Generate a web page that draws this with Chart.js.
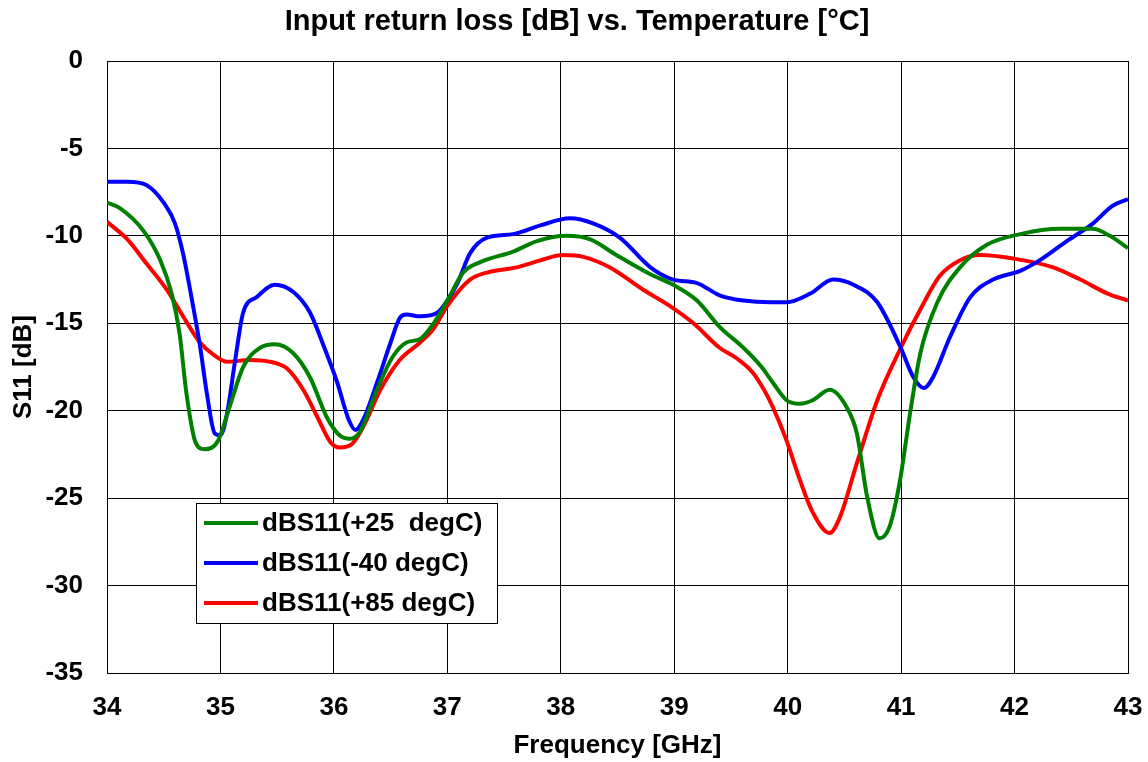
<!DOCTYPE html>
<html>
<head>
<meta charset="utf-8">
<script src="https://cdn.jsdelivr.net/npm/chart.js@4.4.1/dist/chart.umd.min.js"></script>
<style>
  body { margin: 0; background: #fff; }
  #wrap { width: 1148px; height: 762px; }
</style>
</head>
<body>
<div id="wrap"><canvas id="myChart" width="1148" height="762"></canvas></div>
<script>
const FONT = '"Liberation Sans", Arial, sans-serif';

// Frequency [GHz] / S11 [dB]
const freq25 = [34.0, 34.11, 34.32, 34.47, 34.57, 34.64, 34.70, 34.78, 34.86, 34.98, 35.08, 35.2, 35.35, 35.48, 35.64, 35.79, 35.94, 36.05, 36.14, 36.23, 36.38, 36.52, 36.64, 36.76, 36.88, 37.0, 37.14, 37.29, 37.58, 37.79, 38.05, 38.26, 38.49, 38.79, 38.99, 39.2, 39.4, 39.61, 39.77, 39.87, 39.99, 40.11, 40.22, 40.37, 40.52, 40.61, 40.70, 40.81, 40.90, 40.99, 41.08, 41.17, 41.32, 41.52, 41.76, 42.05, 42.40, 42.69, 42.84, 43.0];
const s11_25 = [-8.1, -8.4, -9.7, -11.4, -13.3, -15.6, -19.0, -21.8, -22.2, -21.7, -19.8, -17.5, -16.4, -16.2, -16.7, -18.1, -20.4, -21.4, -21.6, -21.2, -18.8, -16.9, -16.1, -15.9, -15.0, -13.7, -12.1, -11.5, -10.9, -10.3, -10.0, -10.2, -11.1, -12.2, -12.8, -13.7, -15.2, -16.4, -17.5, -18.4, -19.4, -19.6, -19.4, -18.8, -19.8, -21.3, -24.9, -27.3, -26.6, -24.0, -20.1, -16.7, -13.8, -11.8, -10.5, -9.9, -9.6, -9.6, -10.0, -10.7];

const freqM40 = [34.0, 34.18, 34.35, 34.5, 34.6, 34.67, 34.75, 34.82, 34.88, 34.95, 35.0, 35.06, 35.13, 35.2, 35.32, 35.48, 35.64, 35.79, 35.91, 36.03, 36.13, 36.19, 36.26, 36.38, 36.5, 36.58, 36.64, 36.76, 36.91, 37.01, 37.09, 37.2, 37.35, 37.58, 37.82, 38.08, 38.29, 38.52, 38.79, 38.99, 39.2, 39.4, 39.61, 39.85, 39.99, 40.2, 40.4, 40.58, 40.79, 40.99, 41.11, 41.2, 41.28, 41.43, 41.61, 41.81, 42.05, 42.22, 42.46, 42.69, 42.86, 43.0];
const s11M40 = [-6.9, -6.9, -7.1, -8.1, -9.3, -11.0, -13.7, -16.3, -19.0, -21.3, -21.4, -20.1, -17.1, -14.4, -13.5, -12.8, -13.2, -14.4, -16.3, -18.4, -20.5, -21.1, -20.5, -18.4, -16.1, -14.7, -14.5, -14.6, -14.4, -13.6, -12.7, -11.0, -10.1, -9.9, -9.4, -9.0, -9.3, -10.1, -11.8, -12.5, -12.7, -13.4, -13.7, -13.8, -13.8, -13.3, -12.5, -12.8, -13.8, -16.3, -18.1, -18.7, -18.1, -15.8, -13.5, -12.5, -12.0, -11.4, -10.3, -9.3, -8.3, -7.9];

const freq85 = [34.0, 34.18, 34.35, 34.53, 34.67, 34.82, 34.94, 35.06, 35.26, 35.5, 35.59, 35.73, 35.85, 35.97, 36.05, 36.16, 36.26, 36.41, 36.58, 36.76, 36.88, 37.0, 37.2, 37.35, 37.61, 37.82, 38.02, 38.2, 38.43, 38.73, 38.96, 39.17, 39.4, 39.55, 39.69, 39.8, 39.87, 39.99, 40.11, 40.22, 40.37, 40.46, 40.61, 40.79, 40.99, 41.17, 41.34, 41.52, 41.7, 41.99, 42.34, 42.58, 42.82, 43.0];
const s11_85 = [-9.2, -10.2, -11.6, -13.1, -14.6, -16.1, -16.8, -17.2, -17.1, -17.3, -17.6, -18.8, -20.3, -21.8, -22.1, -21.9, -20.9, -18.8, -17.1, -16.1, -15.3, -14.0, -12.5, -12.1, -11.8, -11.4, -11.1, -11.2, -11.8, -13.1, -14.0, -15.0, -16.4, -17.0, -17.8, -18.9, -19.8, -21.7, -24.0, -25.8, -27.0, -26.1, -23.0, -19.4, -16.5, -14.2, -12.3, -11.4, -11.1, -11.3, -11.8, -12.5, -13.3, -13.7];

const seriesLabels = ["dBS11(+25  degC)", "dBS11(-40 degC)", "dBS11(+85 degC)"];
const seriesColors = ["#008000", "#0000ff", "#ff0000"];

const toPoints = (xs, ys) => xs.map((x, i) => ({ x: x, y: ys[i] }));

// title + boxed legend drawn by hand
const extras = {
  id: "extras",
  afterDatasetsDraw(chart) {
    const ctx = chart.ctx;
    ctx.save();
    ctx.fillStyle = "#000";
    ctx.font = "bold 29px " + FONT;
    ctx.textAlign = "center";
    ctx.textBaseline = "middle";
    ctx.fillText("Input return loss [dB] vs. Temperature [°C]", 577, 22);

    const bx = 196, by = 503, bw = 301, bh = 120;
    ctx.fillStyle = "#fff";
    ctx.fillRect(bx, by, bw, bh);
    ctx.strokeStyle = "#000";
    ctx.lineWidth = 1;
    ctx.strokeRect(bx + 0.5, by + 0.5, bw, bh);
    ctx.font = "bold 26px " + FONT;
    ctx.textAlign = "left";
    chart.data.datasets.forEach((ds, i) => {
      const y = by + 20 + i * 40;
      ctx.strokeStyle = ds.borderColor;
      ctx.lineWidth = 4;
      ctx.beginPath();
      ctx.moveTo(bx + 8, y);
      ctx.lineTo(bx + 62, y);
      ctx.stroke();
      ctx.fillStyle = "#000";
      ctx.fillText(ds.label, bx + 66, y + 1);
    });
    ctx.restore();
  },
};

new Chart(document.getElementById("myChart"), {
  type: "line",
  data: {
    datasets: [
      { label: seriesLabels[0], data: toPoints(freq25, s11_25), borderColor: seriesColors[0] },
      { label: seriesLabels[1], data: toPoints(freqM40, s11M40), borderColor: seriesColors[1] },
      { label: seriesLabels[2], data: toPoints(freq85, s11_85), borderColor: seriesColors[2] },
    ],
  },
  options: {
    responsive: false,
    animation: false,
    layout: { padding: { top: 61, right: 20, bottom: 0, left: 0 } },
    elements: {
      line: { borderWidth: 4, cubicInterpolationMode: "monotone", fill: false },
      point: { radius: 0 },
    },
    plugins: { legend: { display: false }, title: { display: false }, tooltip: { enabled: false } },
    scales: {
      x: {
        type: "linear",
        min: 34,
        max: 43,
        border: { color: "#000", width: 1 },
        grid: { color: "#000", lineWidth: 1, drawTicks: false },
        ticks: { stepSize: 1, padding: 19, color: "#000", font: { family: FONT, size: 26, weight: "bold" } },
        title: { display: true, text: "Frequency [GHz]", color: "#000", padding: { top: 0, bottom: 1 }, font: { family: FONT, size: 26, weight: "bold" } },
        afterFit: (s) => { s.height = 89; s.paddingLeft = 0; s.paddingRight = 0; },
      },
      y: {
        min: -35,
        max: 0,
        border: { color: "#000", width: 1 },
        grid: { color: "#000", lineWidth: 1, drawTicks: false },
        ticks: { stepSize: 5, padding: 24, color: "#000", callback: (v) => String(v), font: { family: FONT, size: 26, weight: "bold" } },
        title: { display: true, text: "S11 [dB]", color: "#000", padding: { top: 8, bottom: 0 }, font: { family: FONT, size: 26, weight: "bold" } },
        afterFit: (s) => { s.width = 107; s.paddingTop = 0; s.paddingBottom = 0; },
      },
    },
  },
  plugins: [extras],
});
</script>
</body>
</html>
